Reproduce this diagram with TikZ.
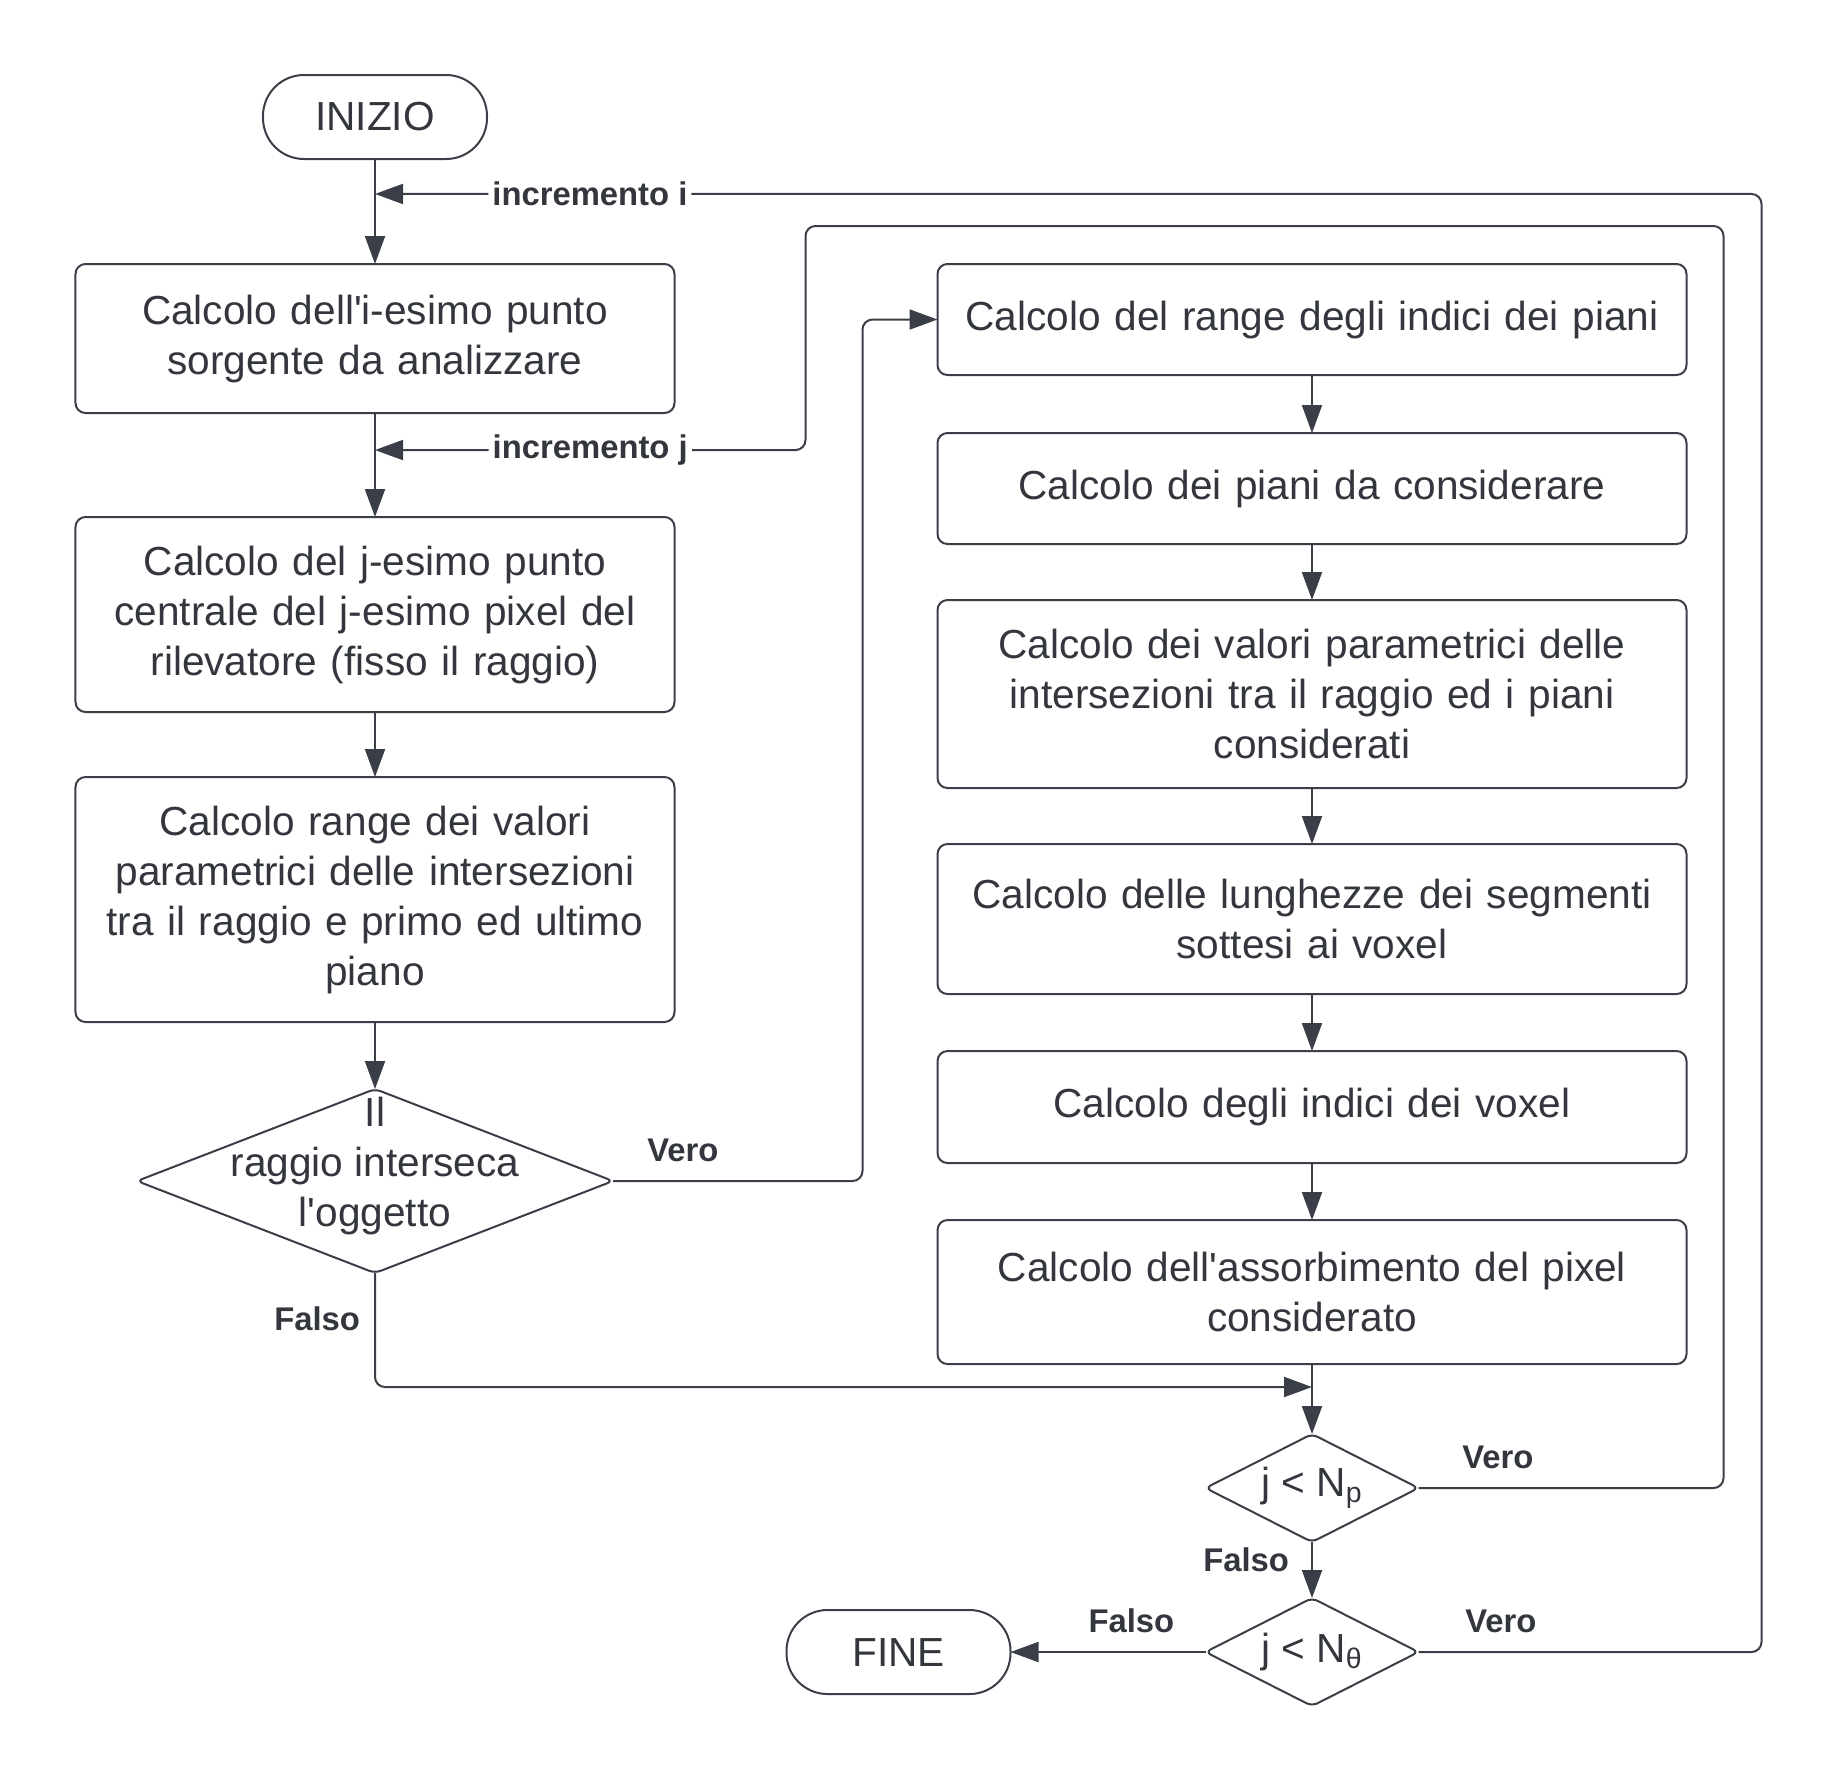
\documentclass[tikz,border=0pt]{standalone}
\usepackage{fontspec}
\setmainfont{Liberation Sans}[Ligatures=TeXOff]
\usepackage{xcolor}
\usetikzlibrary{shapes.geometric,arrows.meta,positioning,calc}
\definecolor{ink}{HTML}{3A3F47}
\definecolor{txt}{HTML}{33373D}
\tikzset{
  fctext/.style={font=\fontsize{20.3}{25}\selectfont, text=txt, align=center},
  fcbox/.style={
    rectangle, rounded corners=5pt, draw=ink, line width=1pt,
    fctext, inner sep=3pt, outer sep=0pt
  },
  fcleft/.style={fcbox, minimum width=299.5pt, text width=290pt},
  fcright/.style={fcbox, minimum width=374.5pt, text width=365pt},
  fcterm/.style={fcbox, rounded corners=20.5pt, minimum width=112pt, minimum height=42pt},
  fctest/.style={
    diamond, draw=ink, line width=1pt, rounded corners=3pt,
    fctext, inner sep=0pt, outer sep=0pt, aspect=2
  },
  fcarrow/.style={-{Triangle[length=14pt,width=10pt]}, line width=1pt, draw=ink, rounded corners=5pt},
  fclabel/.style={font=\fontsize{16.4}{19}\selectfont\bfseries, text=txt, inner sep=2pt},
}
\begin{document}
\begin{tikzpicture}
  \useasboundingbox (-187.5pt,58.5pt) rectangle (732pt,-834pt);
  % left column
  \node (inizio) [fcterm] {INIZIO};
  \node (calc1) [fcleft, minimum height=74.5pt, below=52.5pt of inizio] {Calcolo dell'i-esimo punto\\sorgente da analizzare};
  \node (calc2) [fcleft, minimum height=97.5pt, below=52pt of calc1] {Calcolo del j-esimo punto\\centrale del j-esimo pixel del\\rilevatore (fisso il raggio)};
  \node (calc3) [fcleft, minimum height=122.5pt, below=32.5pt of calc2] {Calcolo range dei valori\\parametrici delle intersezioni\\tra il raggio e primo ed ultimo\\piano};
  \node (test1) [fctest, minimum width=238pt, minimum height=92pt, below=33.5pt of calc3,
    label={[fctext, yshift=7.5pt]center:{Il\\raggio interseca\\l'oggetto}}] {};
  % right column
  \node (r1) [fcright, minimum height=55.5pt, right=131.5pt of calc1.north east, anchor=north west] {Calcolo del range degli indici dei piani};
  \node (r2) [fcright, minimum height=55.5pt, below=29pt of r1] {Calcolo dei piani da considerare};
  \node (r3) [fcright, minimum height=94pt, below=28pt of r2] {Calcolo dei valori parametrici delle\\intersezioni tra il raggio ed i piani\\considerati};
  \node (r4) [fcright, minimum height=75pt, below=28pt of r3] {Calcolo delle lunghezze dei segmenti\\sottesi ai voxel};
  \node (r5) [fcright, minimum height=56pt, below=28.5pt of r4] {Calcolo degli indici dei voxel};
  \node (r6) [fcright, minimum height=72pt, below=28.5pt of r5] {Calcolo dell'assorbimento del pixel\\considerato};
  \node (test2) [fctest, minimum width=106.5pt, minimum height=54pt, below=35pt of r6] {j < N\textsubscript{p}};
  \node (test3) [fctest, minimum width=106.5pt, minimum height=54pt, below=28pt of test2] {j < N\textsubscript{θ}};
  \node (fine) [fcterm, left=97.5pt of test3] {FINE};
  % helper points
  \coordinate (mi) at ($(inizio.south)!0.333!(calc1.north)$);
  \coordinate (mj) at ($(calc1.south)!0.356!(calc2.north)$);
  \coordinate (merge) at ($(r6.south)+(0,-11.5pt)$);
  \coordinate (iright) at ($(r1.east)+(37.5pt,0)$);
  \coordinate (jright) at ($(r1.north east)+(18.5pt,19pt)$);
  \coordinate (jleft) at ($(r1.north west)+(-66pt,19pt)$);
  \coordinate (vleft) at ($(r1.west)+(-37.5pt,0)$);
  % connectors
  \draw[fcarrow] (inizio) -- (calc1);
  \draw[fcarrow] (calc1) -- (calc2);
  \draw[fcarrow] (calc2) -- (calc3);
  \draw[fcarrow] (calc3) -- (test1);
  \draw[fcarrow] (r1) -- (r2); \draw[fcarrow] (r2) -- (r3); \draw[fcarrow] (r3) -- (r4);
  \draw[fcarrow] (r4) -- (r5); \draw[fcarrow] (r5) -- (r6); \draw[fcarrow] (r6) -- (test2);
  \draw[fcarrow] (test1.east) -| node[fclabel, pos=0.14, above=7pt] {Vero} (vleft) -- (r1.west);
  \draw[fcarrow] (test1.south) |- node[fclabel, pos=0.2, left=5pt] {Falso} (merge);
  \draw[fcarrow] (test2) -- node[fclabel, pos=0.32, left=9pt] {Falso} (test3);
  \draw[fcarrow] (test3) -- node[fclabel, pos=0.38, above=7pt] {Falso} (fine);
  \draw[fcarrow] (test2.east) -| node[fclabel, pos=0.13, above=7pt] {Vero} (jright) -- (jleft)
    |- node[fclabel, pos=0.75, fill=white] {incremento j} (mj);
  \draw[fcarrow] (test3.east) -| node[fclabel, pos=0.12, above=7pt] {Vero} (iright |- mi)
    -- node[fclabel, pos=0.845, fill=white] {incremento i} (mi);
\end{tikzpicture}
\end{document}
